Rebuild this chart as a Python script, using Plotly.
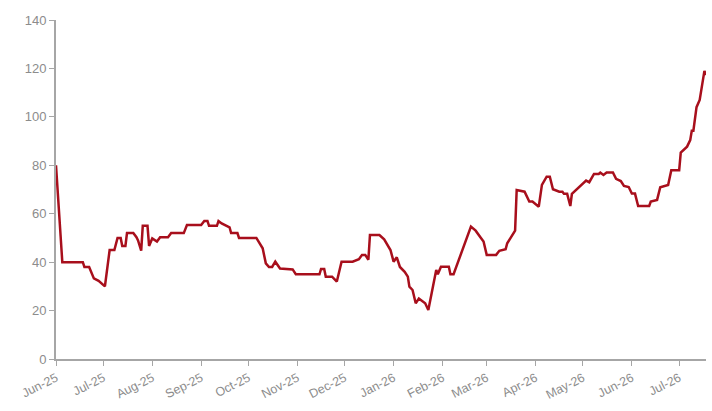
import plotly.graph_objects as go

dates = [
    "2025-06-01", "2025-06-05", "2025-06-18", "2025-06-19", "2025-06-22", "2025-06-23",
    "2025-06-25", "2025-06-28", "2025-07-02", "2025-07-05", "2025-07-08", "2025-07-10",
    "2025-07-12", "2025-07-13", "2025-07-15", "2025-07-16", "2025-07-20", "2025-07-22",
    "2025-07-23", "2025-07-25", "2025-07-26", "2025-07-29", "2025-07-30", "2025-08-01",
    "2025-08-04", "2025-08-06", "2025-08-11", "2025-08-13", "2025-08-21", "2025-08-23",
    "2025-09-01", "2025-09-03", "2025-09-05", "2025-09-06", "2025-09-11", "2025-09-12",
    "2025-09-14", "2025-09-19", "2025-09-20", "2025-09-24", "2025-09-25", "2025-10-06",
    "2025-10-08", "2025-10-10", "2025-10-12", "2025-10-14", "2025-10-16", "2025-10-18",
    "2025-10-21", "2025-10-27", "2025-10-29", "2025-10-31", "2025-11-15", "2025-11-16",
    "2025-11-18", "2025-11-19", "2025-11-23", "2025-11-26", "2025-11-29", "2025-12-06",
    "2025-12-10", "2025-12-12", "2025-12-14", "2025-12-16", "2025-12-17", "2025-12-23",
    "2025-12-26", "2025-12-30", "2026-01-01", "2026-01-03", "2026-01-05", "2026-01-08",
    "2026-01-10", "2026-01-11", "2026-01-13", "2026-01-15", "2026-01-17", "2026-01-21",
    "2026-01-23", "2026-01-28", "2026-01-29", "2026-01-31", "2026-02-05", "2026-02-06",
    "2026-02-08", "2026-02-19", "2026-02-22", "2026-02-25", "2026-02-27", "2026-03-01",
    "2026-03-07", "2026-03-09", "2026-03-13", "2026-03-14", "2026-03-17", "2026-03-19",
    "2026-03-20", "2026-03-25", "2026-03-28", "2026-03-30", "2026-04-03", "2026-04-05",
    "2026-04-08", "2026-04-10", "2026-04-12", "2026-04-16", "2026-04-18", "2026-04-19",
    "2026-04-21", "2026-04-23", "2026-04-24", "2026-04-28", "2026-05-01", "2026-05-03",
    "2026-05-05", "2026-05-08", "2026-05-11", "2026-05-12", "2026-05-14", "2026-05-16",
    "2026-05-20", "2026-05-22", "2026-05-25", "2026-05-27", "2026-05-30", "2026-06-01",
    "2026-06-03", "2026-06-05", "2026-06-12", "2026-06-13", "2026-06-17", "2026-06-19",
    "2026-06-24", "2026-06-26", "2026-07-01", "2026-07-02", "2026-07-06", "2026-07-08",
    "2026-07-09", "2026-07-10", "2026-07-12", "2026-07-14", "2026-07-17", "2026-07-18",
]

values = [
    80, 40, 40, 38, 38, 36.5,
    33.3, 32.3, 30, 45, 45, 50,
    50, 46.7, 46.7, 52, 52, 50.3,
    49, 44.7, 55, 55, 46.7, 49.8,
    48.5, 50.3, 50.3, 52, 52, 55.3,
    55.3, 57, 57, 55, 55, 57,
    56, 54.4, 52, 52, 50, 50,
    48, 45.7, 39.5, 38, 38, 40.2,
    37.4, 37, 37, 35, 35, 37.2,
    37.2, 34, 34, 32, 40.2, 40.2,
    41.2, 43, 43, 41, 51.2, 51.2,
    49.4, 45, 40.2, 42, 38, 36,
    34, 29.9, 28.5, 23, 25, 23,
    20.2, 36.8, 35, 38.1, 38.1, 35,
    35, 54.7, 53, 50.3, 48.5, 43,
    43, 44.7, 45.3, 47.8, 50.8, 53,
    69.8, 69.1, 65, 65, 62.9, 71.9,
    75.3, 75.3, 70.1, 69.1, 69.1, 68.2,
    68.2, 63.2, 68.2, 70.5, 72.5, 73.7,
    73, 76.4, 76.4, 77, 76, 77,
    77, 74.4, 73.5, 71.5, 71, 68.3,
    68.3, 63.2, 63.2, 65, 65.7, 70.9,
    71.9, 78, 78, 85.2, 87.7, 90.4,
    94.3, 94.3, 104, 107, 119, 117.3,
]

y_ticks = [0, 20, 40, 60, 80, 100, 120, 140]

fig = go.Figure()
fig.add_trace(go.Scatter(
    x=dates, y=values, mode="lines",
    line=dict(color="#a80f1c", width=2.5),
    hoverinfo="skip", showlegend=False,
))

axis_color = "#a6a6a6"
font_color = "#8c8c8c"

fig.update_layout(
    width=712, height=411,
    margin=dict(l=56, r=6, t=20, b=52),
    paper_bgcolor="white", plot_bgcolor="white",
    font=dict(family="Liberation Sans, Arial, sans-serif", size=12, color=font_color),
    showlegend=False,
)
fig.update_xaxes(
    type="date",
    range=["2025-06-01", "2026-07-18"],
    dtick="M1", tick0="2025-06-01", tickformat="%b-%y",
    tickangle=-27,
    automargin=False,
    showgrid=False, zeroline=False,
    showline=True, linecolor=axis_color, linewidth=2,
    ticks="outside", ticklen=5, tickcolor=axis_color, tickwidth=1,
    tickfont=dict(size=12.5, color=font_color),
)
fig.update_yaxes(
    range=[0, 140],
    tickvals=y_ticks,
    automargin=False,
    showgrid=False, zeroline=False,
    showline=True, linecolor=axis_color, linewidth=2,
    ticks="outside", ticklen=5, tickcolor=axis_color, tickwidth=1,
    tickfont=dict(size=13, color=font_color),
)

fig.write_html(
    "out.html",
    config={"displayModeBar": False},
    post_script="document.body.style.margin='0';document.body.style.overflow='hidden';",
)
